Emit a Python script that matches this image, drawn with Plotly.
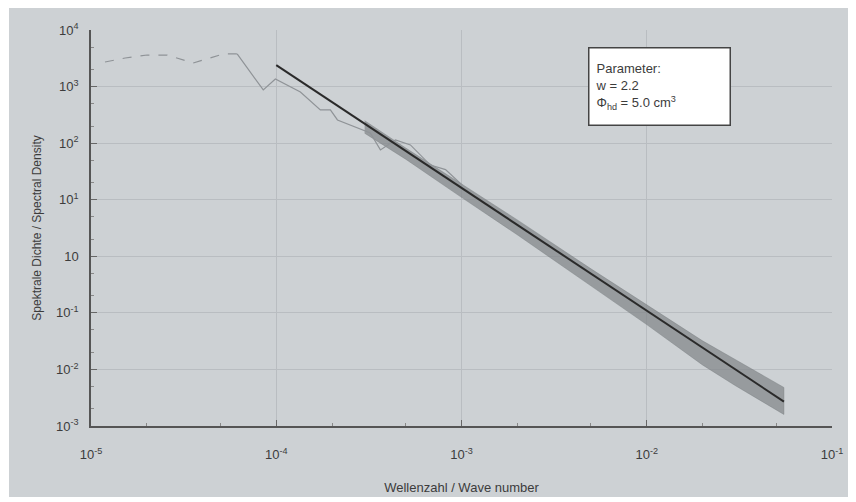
import plotly.graph_objects as go

# --- data ---
# low-frequency part of the measured spectrum (dashed)
low_x = [1.19e-5, 1.53e-5, 2.01e-5, 2.58e-5, 3.56e-5, 5.18e-5, 6.15e-5]
low_y = [2720, 3200, 3610, 3610, 2610, 3770, 3770]

# measured spectrum, solid part before it becomes a dense band
mid_x = [6.15e-5, 8.51e-5, 9.89e-5, 1.35e-4, 1.73e-4, 1.96e-4, 2.14e-4, 2.51e-4,
         3.22e-4, 3.65e-4, 4.40e-4, 5.30e-4, 6.79e-4, 8.20e-4, 1.01e-3]
mid_y = [3770, 871, 1360, 804, 386, 386, 257, 210,
         151, 76, 114, 93, 41, 34, 18]

# dense noisy band of the spectrum (upper/lower envelope)
band_x = [3.0e-4, 5.0e-4, 1.0e-3, 2.0e-3, 5.0e-3, 1.0e-2, 2.0e-2, 3.0e-2, 5.5e-2]
band_hi = [250, 82, 19, 4.4, 0.6, 0.14, 0.032, 0.015, 0.0048]
band_lo = [150, 52, 11, 2.4, 0.3, 0.062, 0.012, 0.0052, 0.0016]

# fitted power law (w = 2.2)
fit_x = [1.0e-4, 5.5e-2]
fit_y = [2400, 0.0027]

x_tickvals = [1e-5, 1e-4, 1e-3, 1e-2, 1e-1]
x_ticktext = ["10<sup>-5</sup>", "10<sup>-4</sup>", "10<sup>-3</sup>", "10<sup>-2</sup>", "10<sup>-1</sup>"]
y_tickvals = [1e-3, 1e-2, 1e-1, 1, 10, 100, 1000, 10000]
y_ticktext = ["10<sup>-3</sup>", "10<sup>-2</sup>", "10<sup>-1</sup>", "10", "10<sup>1</sup>",
              "10<sup>2</sup>", "10<sup>3</sup>", "10<sup>4</sup>"]

BG = "#cdd1d4"
FONT = "Liberation Sans, Arial, sans-serif"
TXT = "#3c3c3c"

fig = go.Figure()

fig.add_trace(go.Scatter(
    x=band_x + band_x[::-1], y=band_hi + band_lo[::-1],
    mode="lines", fill="toself", fillcolor="rgba(128,132,136,0.7)",
    line=dict(color="rgba(115,119,123,0.5)", width=0.8), hoverinfo="skip", showlegend=False))

fig.add_trace(go.Scatter(x=low_x, y=low_y, mode="lines",
                         line=dict(color="#8f9397", width=1.2, dash="dash"), showlegend=False))
fig.add_trace(go.Scatter(x=mid_x, y=mid_y, mode="lines",
                         line=dict(color="#8f9397", width=1.2), showlegend=False))
fig.add_trace(go.Scatter(x=fit_x, y=fit_y, mode="lines",
                         line=dict(color="#2a2a2a", width=2), showlegend=False))

# minor tick positions (2 and 5 in each decade)
x_minor = [m * 10.0 ** e for e in range(-5, -1) for m in (2, 5)]
y_minor = [m * 10.0 ** e for e in range(-3, 4) for m in (2, 5)]

fig.update_xaxes(
    type="log", range=[-5, -1], tickvals=x_tickvals, ticktext=x_ticktext,
    ticks="inside", ticklen=6, tickcolor="#666", ticklabelstandoff=16,
    showline=True, linecolor="#555", linewidth=1.5, mirror=False, automargin=False,
    showgrid=True, gridcolor="#b9bdc1", gridwidth=1, zeroline=False,
    minor=dict(tickvals=x_minor, ticks="inside", ticklen=3, tickcolor="#888", showgrid=False),
    tickfont=dict(size=13, color=TXT, family=FONT),
    title=dict(text="Wellenzahl / Wave number", font=dict(size=13, color=TXT, family=FONT), standoff=22),
)
fig.update_yaxes(
    type="log", range=[-3, 4], tickvals=y_tickvals, ticktext=y_ticktext,
    ticks="inside", ticklen=6, tickcolor="#666", ticklabelstandoff=8,
    showline=True, linecolor="#555", linewidth=1.5, mirror=False, automargin=False,
    showgrid=True, gridcolor="#b9bdc1", gridwidth=1, zeroline=False,
    minor=dict(tickvals=y_minor, ticks="inside", ticklen=3, tickcolor="#888", showgrid=False),
    tickfont=dict(size=13, color=TXT, family=FONT),
    title=dict(text="Spektrale Dichte / Spectral Density", font=dict(size=12, color=TXT, family=FONT), standoff=12),
)

# the page has an 8 px body margin, so the figure is 8 px smaller and offset
W, H = 848, 494
L, R, T, B = 83, 24, 22, 76
pw, ph = W - L - R, H - T - B

fig.add_shape(type="rect", xref="paper", yref="paper", layer="below",
              x0=(1 - L) / pw, x1=(840 - L) / pw,
              y0=(H - 489 - B) / ph, y1=(H + 2 - B) / ph,
              fillcolor=BG, line=dict(width=0))

fig.add_annotation(
    xref="paper", yref="paper", x=(580 - L) / pw, y=(H - 39 - B) / ph,
    xanchor="left", yanchor="top", align="left", showarrow=False,
    text="Parameter:<br>w = 2.2<br>Φ<sub>hd</sub> = 5.0 cm<sup>3</sup>",
    font=dict(size=13, color=TXT, family=FONT),
    width=128, height=64,
    bgcolor="white", bordercolor="#444", borderwidth=1.5, borderpad=6,
)

fig.update_layout(
    width=W, height=H, margin=dict(l=L, r=R, t=T, b=B),
    paper_bgcolor="white", plot_bgcolor=BG,
    font=dict(family=FONT, color=TXT),
)

fig.write_html("out.html")
